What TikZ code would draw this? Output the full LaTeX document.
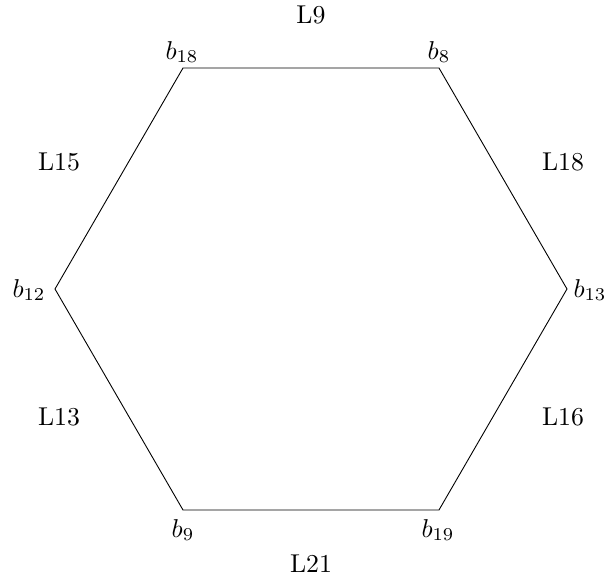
\documentclass[tikz,border=0pt]{standalone}
\begin{document}
\begin{tikzpicture}[x=0.3876pt,y=-0.3876pt,scale=2.58,
  lbl/.style={inner sep=0pt,transform shape},
  edge/.style={draw=black,line width=0.9pt,line join=miter}]
\useasboundingbox (0,0) rectangle (609,578);
\coordinate (v18) at (183,68);
\coordinate (v8) at (439,68);
\coordinate (v13) at (567,289);
\coordinate (v19) at (439,510);
\coordinate (v9) at (183,510);
\coordinate (v12) at (55,289);
\draw[edge] (v18) -- (v8) -- (v13) -- (v19) -- (v9) -- (v12) -- cycle;
\node[lbl] (b18) at (182,52) {$b_{18}$};
\node[lbl] (b8) at (439,52) {$b_{8}$};
\node[lbl] (b13) at (590,290) {$b_{13}$};
\node[lbl] (b19) at (438,530) {$b_{19}$};
\node[lbl] (b9) at (183,530) {$b_{9}$};
\node[lbl] (b12) at (29,290) {$b_{12}$};
\node[lbl] (L9) at (311,15) {L9};
\node[lbl] (L21) at (311,563.5) {L21};
\node[lbl] (L15) at (59,162) {L15};
\node[lbl] (L18) at (563,162) {L18};
\node[lbl] (L13) at (59,417) {L13};
\node[lbl] (L16) at (563,417) {L16};
\end{tikzpicture}
\end{document}
